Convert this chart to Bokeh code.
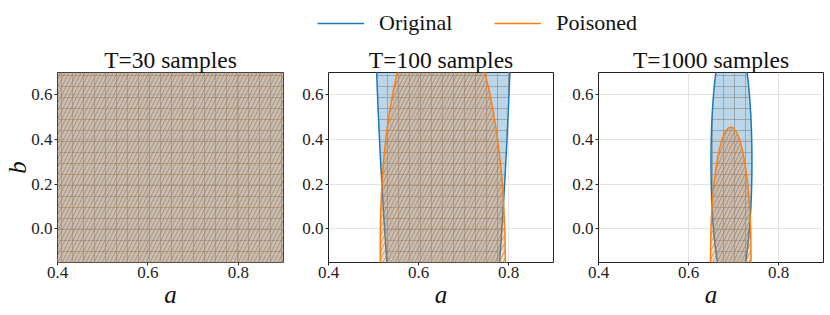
from bokeh.plotting import figure
from bokeh.models import Range1d, FixedTicker, Legend, LegendItem
from bokeh.layouts import column, row
from bokeh.embed import file_html
from bokeh.resources import INLINE

FONT = "Liberation Serif"
BLUE = "#1f77b4"
ORANGE = "#ff7f0e"

titles = ["T=30 samples", "T=100 samples", "T=1000 samples"]
series_names = ["Original", "Poisoned"]

# confidence-region ellipses (centre a, centre b, full width, full height)
orig_a = [0.65, 0.655, 0.6955]
orig_b = [0.3, 2.02, 0.30]
orig_w = [2.0, 0.32, 0.091]
orig_h = [4.0, 6.96, 1.24]
orig_angle = [0.0, 0.0, 0.0]

pois_a = [0.70, 0.654, 0.694]
pois_b = [1.5, -0.12, -0.12]
pois_w = [0.797, 0.278, 0.090]
pois_h = [5.0, 2.30, 1.15]
pois_angle = [0.0, 0.01, 0.0]

x_ticks = [0.4, 0.6, 0.8]
x_labels = ["0.4", "0.6", "0.8"]
y_ticks = [0.0, 0.2, 0.4, 0.6]
y_labels = ["0.0", "0.2", "0.4", "0.6"]
x_lim = (0.4, 0.9)
y_lim = (-0.15, 0.7)

widths = [293, 270, 267]
borders = [(57, 10), (35, 10), (35, 7)]

panels = []
for i in range(3):
    left, right = borders[i]
    p = figure(width=widths[i], height=279,
               min_border_left=left, min_border_right=right,
               min_border_top=36, min_border_bottom=53,
               x_range=Range1d(*x_lim), y_range=Range1d(*y_lim),
               output_backend="svg", toolbar_location=None,
               background_fill_color="white", border_fill_color="white")
    p.title.text = titles[i]
    p.title.text_font = FONT
    p.title.text_font_size = "23.5px"
    p.title.text_font_style = "normal"
    p.title.text_color = "#111111"
    p.title.align = "center"
    p.title.standoff = 0
    p.title.offset = 0
    p.outline_line_color = "#222222"
    p.outline_line_width = 1

    p.ellipse(x=[orig_a[i]], y=[orig_b[i]], width=[orig_w[i]], height=[orig_h[i]],
              angle=[orig_angle[i]],
              fill_color=BLUE, fill_alpha=0.3, line_color=BLUE, line_width=1.5,
              hatch_pattern="+", hatch_color="#808080", hatch_alpha=0.55,
              hatch_scale=11, hatch_weight=1)
    p.ellipse(x=[pois_a[i]], y=[pois_b[i]], width=[pois_w[i]], height=[pois_h[i]],
              angle=[pois_angle[i]],
              fill_color=ORANGE, fill_alpha=0.3, line_color=ORANGE, line_width=1.5,
              hatch_pattern="/", hatch_color="#6f7f95", hatch_alpha=0.6,
              hatch_scale=8, hatch_weight=1)

    for ax in (p.xaxis, p.yaxis):
        ax.axis_line_color = None
        ax.major_tick_in = 0
        ax.major_tick_out = 3
        ax.major_tick_line_color = "#222222"
        ax.minor_tick_line_color = None
        ax.major_label_text_font = FONT
        ax.major_label_text_font_size = "17px"
        ax.major_label_text_color = "#222222"
        ax.axis_label_text_font = FONT
        ax.axis_label_text_font_size = "25px"
        ax.axis_label_text_font_style = "italic"
        ax.axis_label_text_color = "#111111"
    p.xaxis.major_label_standoff = 1
    p.yaxis.major_label_standoff = 2
    p.xaxis.ticker = FixedTicker(ticks=x_ticks)
    p.yaxis.ticker = FixedTicker(ticks=y_ticks)
    p.xaxis.major_label_overrides = dict(zip(x_ticks, x_labels))
    p.yaxis.major_label_overrides = dict(zip(y_ticks, y_labels))
    p.xaxis.axis_label = "a"
    p.xaxis.axis_label_standoff = 0
    if i == 0:
        p.yaxis.axis_label = "b"
        p.yaxis.axis_label_standoff = -3
    p.grid.grid_line_color = "#e3e3e3"
    p.grid.grid_line_width = 1
    panels.append(p)

header = figure(width=830, height=36, x_range=Range1d(0, 1), y_range=Range1d(0, 1),
                min_border=0, output_backend="svg", toolbar_location=None,
                background_fill_color="white", border_fill_color="white")
header.axis.visible = False
header.grid.visible = False
header.outline_line_color = None
# legend-only renderers, kept outside the visible range
r1 = header.line([5, 6], [5, 5], line_color=BLUE, line_width=1.5)
r2 = header.line([5, 6], [5, 5], line_color=ORANGE, line_width=1.5)
legend = Legend(items=[LegendItem(label=series_names[0], renderers=[r1]),
                       LegendItem(label=series_names[1], renderers=[r2])],
                orientation="horizontal", location=(317, 0),
                padding=0, margin=0, spacing=42, label_standoff=15,
                glyph_width=47, border_line_color=None, background_fill_alpha=0,
                label_text_font=FONT, label_text_font_size="22px",
                label_text_color="#111111")
header.add_layout(legend, "center")

layout = column(header, row(*panels, spacing=0), spacing=0)
open("out.html", "w").write(file_html(layout, INLINE))
